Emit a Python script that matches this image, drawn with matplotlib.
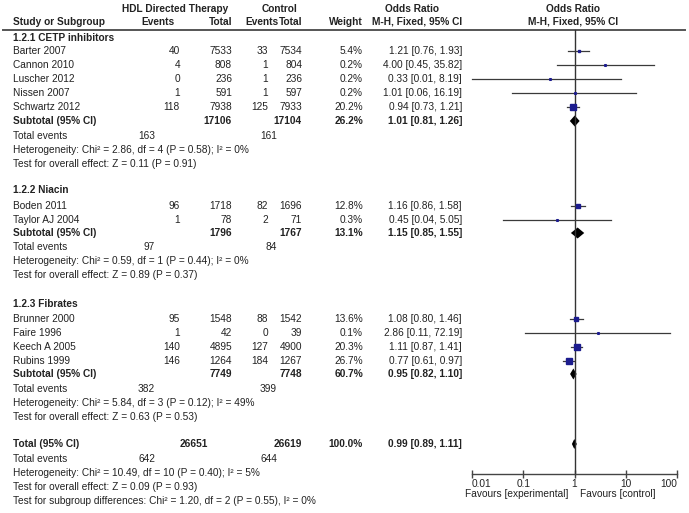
import matplotlib
matplotlib.use("Agg")
import matplotlib.pyplot as plt
import numpy as np

# ---------------- data ----------------
group_names = ["1.2.1 CETP inhibitors", "1.2.2 Niacin", "1.2.3 Fibrates"]
studies = ["Barter 2007", "Cannon 2010", "Luscher 2012", "Nissen 2007", "Schwartz 2012",
           "Boden 2011", "Taylor AJ 2004",
           "Brunner 2000", "Faire 1996", "Keech A 2005", "Rubins 1999"]
study_group = [0, 0, 0, 0, 0, 1, 1, 2, 2, 2, 2]
ev_t = [40, 4, 0, 1, 118, 96, 1, 95, 1, 140, 146]
n_t = [7533, 808, 236, 591, 7938, 1718, 78, 1548, 42, 4895, 1264]
ev_c = [33, 1, 1, 1, 125, 82, 2, 88, 0, 127, 184]
n_c = [7534, 804, 236, 597, 7933, 1696, 71, 1542, 39, 4900, 1267]
weight = [5.4, 0.2, 0.2, 0.2, 20.2, 12.8, 0.3, 13.6, 0.1, 20.3, 26.7]
odds = [1.21, 4.00, 0.33, 1.01, 0.94, 1.16, 0.45, 1.08, 2.86, 1.11, 0.77]
ci_lo = [0.76, 0.45, 0.01, 0.06, 0.73, 0.86, 0.04, 0.80, 0.11, 0.87, 0.61]
ci_hi = [1.93, 35.82, 8.19, 16.19, 1.21, 1.58, 5.05, 1.46, 72.19, 1.41, 0.97]

sub_n_t = [17106, 1796, 7749]
sub_n_c = [17104, 1767, 7748]
sub_ev_t = [163, 97, 382]
sub_ev_c = [161, 84, 399]
sub_w = [26.2, 13.1, 60.7]
sub_or = [1.01, 1.15, 0.95]
sub_lo = [0.81, 0.85, 0.82]
sub_hi = [1.26, 1.55, 1.10]
sub_chi = ["2.86", "0.59", "5.84"]
sub_df = [4, 1, 3]
sub_p = ["0.58", "0.44", "0.12"]
sub_i2 = [0, 0, 49]
sub_z = ["0.11", "0.89", "0.63"]
sub_pz = ["0.91", "0.37", "0.53"]

tot_n_t, tot_n_c = 26651, 26619
tot_ev_t, tot_ev_c = 642, 644
tot_w = 100.0
tot_or, tot_lo, tot_hi = 0.99, 0.89, 1.11
tot_chi, tot_df, tot_p, tot_i2 = "10.49", 10, "0.40", 5
tot_z, tot_pz = "0.09", "0.93"
sg_chi, sg_df, sg_p, sg_i2 = "1.20", 2, "0.55", 0

ticks = [0.01, 0.1, 1, 10, 100]
tick_labels = ["0.01", "0.1", "1", "10", "100"]

# ---------------- layout ----------------
W, H = 689, 513
plt.rcParams['font.family'] = ['Liberation Sans', 'DejaVu Sans']
FS = 7.3
TC = '#222222'
fig = plt.figure(figsize=(W / 100, H / 100), dpi=100)
tx = fig.add_axes([0, 0, 1, 1])
tx.set_xlim(0, W)
tx.set_ylim(H, 0)
tx.axis('off')

AX_L, AX_R, AX_Y = 472, 677, 474
fx = fig.add_axes([AX_L / W, (H - AX_Y) / H, (AX_R - AX_L) / W, AX_Y / H])
fx.set_xscale('log')
fx.set_xlim(0.01, 100)
fx.set_ylim(AX_Y, 0)
fx.patch.set_alpha(0)
for s in ['left', 'right', 'top']:
    fx.spines[s].set_visible(False)
fx.spines['bottom'].set_color('#444444')
fx.spines['bottom'].set_linewidth(1.0)
fx.set_yticks([])
fx.set_xticks(ticks)
fx.set_xticklabels(tick_labels)
fx.minorticks_off()
fx.tick_params(axis='x', direction='inout', length=6, width=1.0, color='#444444',
               labelsize=FS, labelcolor=TC, pad=0.5)
lbls = fx.get_xticklabels()
lbls[0].set_horizontalalignment('left')
lbls[-1].set_horizontalalignment('right')

X_NAME, X_EVT, X_TOT_T, X_EVC, X_TOT_C, X_W, X_OR = 13, 180, 232, 268, 302, 363, 462
X_TE_T, X_TE_C = 155, 277


def t(x, y, s, ha='left', bold=False):
    tx.text(x, y, s, ha=ha, va='center', fontsize=FS, color=TC,
            fontweight='bold' if bold else 'normal')


# headers
t(175, 9, "HDL Directed Therapy", ha='center', bold=True)
t(279, 9, "Control", ha='center', bold=True)
t(412, 9, "Odds Ratio", ha='center', bold=True)
t(573, 9, "Odds Ratio", ha='center', bold=True)
t(X_NAME, 22, "Study or Subgroup", bold=True)
t(175, 22, "Events", ha='right', bold=True)
t(X_TOT_T, 22, "Total", ha='right', bold=True)
t(279, 22, "Events", ha='right', bold=True)
t(X_TOT_C, 22, "Total", ha='right', bold=True)
t(X_W, 22, "Weight", ha='right', bold=True)
t(417, 22, "M-H, Fixed, 95% CI", ha='center', bold=True)
t(573, 22, "M-H, Fixed, 95% CI", ha='center', bold=True)
tx.plot([3, 685], [30, 30], color='#555555', lw=1.4)

fx.plot([1, 1], [30, AX_Y], color='#333333', lw=1.0, clip_on=False)

group_head_y = [38, 190, 304]
study_y = [51, 65, 79, 93, 107, 206, 220, 319, 333, 347, 361]
sub_y = [121, 233, 374]
te_y = [136, 247, 389]
het_y = [150, 261, 403]
tst_y = [164, 275, 417]


def diamond(y, o, lo, hi, hh=5.5):
    fx.fill([lo, o, hi, o], [y, y - hh, y, y + hh], color='black', lw=0, clip_on=False)


for g in range(3):
    t(X_NAME, group_head_y[g], group_names[g], bold=True)
    t(X_NAME, sub_y[g], "Subtotal (95% CI)", bold=True)
    t(X_TOT_T, sub_y[g], str(sub_n_t[g]), ha='right', bold=True)
    t(X_TOT_C, sub_y[g], str(sub_n_c[g]), ha='right', bold=True)
    t(X_W, sub_y[g], f"{sub_w[g]:.1f}%", ha='right', bold=True)
    t(X_OR, sub_y[g], f"{sub_or[g]:.2f} [{sub_lo[g]:.2f}, {sub_hi[g]:.2f}]", ha='right', bold=True)
    diamond(sub_y[g], sub_or[g], sub_lo[g], sub_hi[g])
    t(X_NAME, te_y[g], "Total events")
    t(X_TE_T, te_y[g], str(sub_ev_t[g]), ha='right')
    t(X_TE_C, te_y[g], str(sub_ev_c[g]), ha='right')
    t(X_NAME, het_y[g], f"Heterogeneity: Chi\u00b2 = {sub_chi[g]}, df = {sub_df[g]} (P = {sub_p[g]}); I\u00b2 = {sub_i2[g]}%")
    t(X_NAME, tst_y[g], f"Test for overall effect: Z = {sub_z[g]} (P = {sub_pz[g]})")

for i, name in enumerate(studies):
    y = study_y[i]
    t(X_NAME, y, name)
    t(X_EVT, y, str(ev_t[i]), ha='right')
    t(X_TOT_T, y, str(n_t[i]), ha='right')
    t(X_EVC, y, str(ev_c[i]), ha='right')
    t(X_TOT_C, y, str(n_c[i]), ha='right')
    t(X_W, y, f"{weight[i]:.1f}%", ha='right')
    t(X_OR, y, f"{odds[i]:.2f} [{ci_lo[i]:.2f}, {ci_hi[i]:.2f}]", ha='right')
    fx.plot([max(ci_lo[i], 0.01), min(ci_hi[i], 100)], [y, y], color='#3a3a3a', lw=0.9, clip_on=False)
    ms = max(1.2, 1.2 * np.sqrt(weight[i]) * 0.72)
    fx.plot([odds[i]], [y], marker='s', ms=ms, color='#1c1c8e', mec='#1c1c8e', lw=0, clip_on=False)

# overall
ty = 444
t(X_NAME, ty, "Total (95% CI)", bold=True)
t(208, ty, str(tot_n_t), ha='right', bold=True)
t(X_TOT_C, ty, str(tot_n_c), ha='right', bold=True)
t(X_W, ty, f"{tot_w:.1f}%", ha='right', bold=True)
t(X_OR, ty, f"{tot_or:.2f} [{tot_lo:.2f}, {tot_hi:.2f}]", ha='right', bold=True)
diamond(ty, tot_or, tot_lo, tot_hi, hh=5)
t(X_NAME, 459, "Total events")
t(X_TE_T, 459, str(tot_ev_t), ha='right')
t(X_TE_C, 459, str(tot_ev_c), ha='right')
t(X_NAME, 473, f"Heterogeneity: Chi\u00b2 = {tot_chi}, df = {tot_df} (P = {tot_p}); I\u00b2 = {tot_i2}%")
t(X_NAME, 487, f"Test for overall effect: Z = {tot_z} (P = {tot_pz})")
t(X_NAME, 501, f"Test for subgroup differences: Chi\u00b2 = {sg_chi}, df = {sg_df} (P = {sg_p}), I\u00b2 = {sg_i2}%")

t(568, 494, "Favours [experimental]", ha='right')
t(580, 494, "Favours [control]", ha='left')

fig.savefig("out.png", dpi=100)
